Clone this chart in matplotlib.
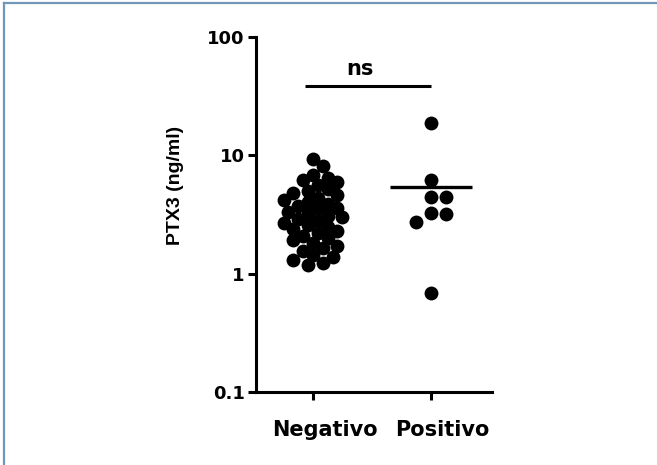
#!/usr/bin/env python3

import numpy as np
import matplotlib.pyplot as plt
from matplotlib.lines import Line2D

# --- data ---
groups = ["Negativo", "Positivo"]
negativo = [9.4, 8.2, 6.8, 6.4, 6.2, 5.9, 5.6, 5.2, 5.0, 4.8,
            4.6, 4.4, 4.2, 4.0, 3.9, 3.7, 3.6, 3.5, 3.3, 3.2,
            3.1, 3.0, 2.9, 2.8, 2.7, 2.6, 2.5, 2.4, 2.3, 2.2,
            2.1, 2.0, 1.93, 1.82, 1.7, 1.65, 1.55, 1.44, 1.39, 1.3,
            1.24, 1.19]
positivo = [18.6, 6.2, 4.44, 4.44, 3.25, 3.19, 2.73, 0.68]
yticks = [0.1, 1, 10, 100]
ytick_labels = ["0.1", "1", "10", "100"]
sig_label = "ns"
sig_height = 38.7


def swarm(values, diam, px_decade, px_unit, gap=0.62):
    """simple beeswarm: returns x offsets (data units) for log-scale values"""
    ys = np.log10(values) * px_decade
    order = np.argsort(-ys)
    placed = []
    offs = np.zeros(len(values))
    step = diam * 0.35
    for i in order:
        ok = 0.0
        for k in range(0, 60):
            cands = [0.0] if k == 0 else [k * step, -k * step]
            hit = None
            for c in cands:
                if all((c - px) ** 2 + (ys[i] - py) ** 2 >= (gap * diam) ** 2
                       for px, py in placed):
                    hit = c
                    break
            if hit is not None:
                ok = hit
                break
        placed.append((ok, ys[i]))
        offs[i] = ok / px_unit
    return offs


fig = plt.figure(figsize=(6.57, 4.65), dpi=100)
ax = fig.add_axes([256 / 657, 73 / 465, 236 / 657, 355 / 465])

diam = 14.0  # pixels
gaps = [0.75, 1.0]
for i, vals in enumerate([negativo, positivo]):
    offs = swarm(vals, diam, 119.0, 118.0, gaps[i])
    ax.scatter(i + offs, vals, s=100, color="black", zorder=3, linewidths=0)
    half = 0.2 if i == 0 else 0.35
    ax.plot([i - half, i + half], [np.mean(vals)] * 2, color="black",
            lw=2.4, zorder=4, solid_capstyle="butt")

# significance bar
ax.plot([-0.07, 1.0], [sig_height, sig_height], color="black", lw=2.2,
        solid_capstyle="butt")
ax.text(0.40, sig_height * 1.14, sig_label, ha="center", va="bottom",
        fontsize=15, fontweight="bold", family="DejaVu Sans")

ax.set_yscale("log")
ax.set_ylim(0.1, 100)
ax.set_xlim(-0.483, 1.517)
ax.set_yticks(yticks)
ax.set_yticklabels(ytick_labels)
ax.minorticks_off()

# tick marks at the groups, labels sit a little to the right (as in source)
pos = np.arange(len(groups))
ax.set_xticks(pos)
ax.set_xticklabels([""] * len(groups))
ax.set_xticks(pos + 0.1, minor=True)
ax.set_xticklabels(groups, minor=True)
ax.tick_params(axis="x", which="minor", length=0, pad=20)

for s in ["top", "right"]:
    ax.spines[s].set_visible(False)
for s in ["left", "bottom"]:
    ax.spines[s].set_linewidth(2.2)
ax.tick_params(which="major", width=2.2, length=6, direction="out", pad=2)
for lab in ax.get_yticklabels():
    lab.set_fontweight("bold")
    lab.set_family("DejaVu Sans")
    lab.set_fontsize(13)
for lab in ax.get_xticklabels(minor=True):
    lab.set_fontweight("bold")
    lab.set_family("DejaVu Sans")
    lab.set_fontsize(15)

ax.set_ylabel("PTX3 (ng/ml)", fontsize=14, fontweight="bold",
              family="Liberation Sans")
ax.yaxis.set_label_coords(-0.306, 0.583)

# thin frame of the source figure
c = "#7196b8"
fig.add_artist(Line2D([4 / 657, 4 / 657], [0, 1 - 3 / 465], color=c, lw=1.6,
                      transform=fig.transFigure))
fig.add_artist(Line2D([4 / 657, 1], [1 - 3 / 465, 1 - 3 / 465], color=c, lw=1.6,
                      transform=fig.transFigure))

fig.savefig("out.png", dpi=100)
